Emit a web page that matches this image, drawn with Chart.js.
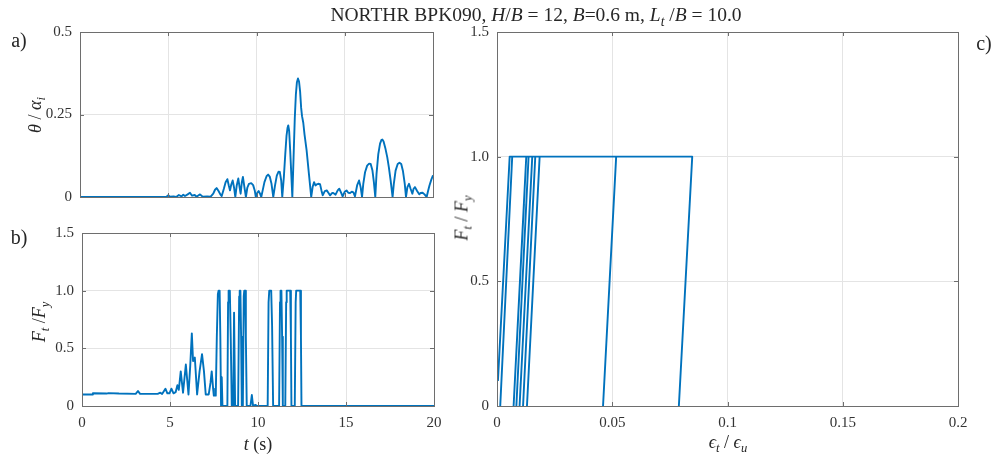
<!DOCTYPE html>
<html>
<head>
<meta charset="utf-8">
<script src="https://cdn.jsdelivr.net/npm/chart.js@4.4.0/dist/chart.umd.min.js"></script>
<style>
  html, body { margin:0; padding:0; background:#fff; }
  #wrap { position:relative; width:994px; height:459px; overflow:hidden; font-family:"Liberation Serif","DejaVu Serif",serif; color:#222; }
  canvas { position:absolute; left:0; top:0; }
  .txt { position:absolute; white-space:nowrap; font-family:"Liberation Serif",serif; color:#262626; }
  .rot { transform:translate(-50%,-50%) rotate(-90deg); }
  .ctr { transform:translate(-50%,-50%); }
  sub { font-size:70%; vertical-align:-0.35em; line-height:0; }
</style>
</head>
<body>
<div id="wrap">
  <canvas id="ca" width="994" height="459"></canvas>
  <canvas id="cb" width="994" height="459"></canvas>
  <canvas id="cc" width="994" height="459"></canvas>
  <div class="txt ctr" style="left:536px;top:15px;font-size:19.5px;">NORTHR BPK090, <i>H</i>/<i>B</i> = 12, <i>B</i>=0.6 m, <i>L</i><sub><i>t</i></sub> /<i>B</i> = 10.0</div>
  <div class="txt ctr" style="left:19px;top:40px;font-size:20px;">a)</div>
  <div class="txt ctr" style="left:19px;top:237px;font-size:20px;">b)</div>
  <div class="txt ctr" style="left:984px;top:43px;font-size:20px;">c)</div>
  <div class="txt rot" style="left:35px;top:115px;font-size:18px;"><i>θ</i> / <i>α</i><sub><i>i</i></sub></div>
  <div class="txt rot" style="left:39px;top:322px;font-size:18px;"><i>F</i><sub><i>t</i></sub> /<i>F</i><sub><i>y</i></sub></div>
  <div class="txt rot" style="left:462px;top:218px;font-size:18px;"><i>F</i><sub><i>t</i></sub> / <i>F</i><sub><i>y</i></sub></div>
  <div class="txt ctr" style="left:258px;top:444px;font-size:18px;"><i>t</i> (s)</div>
  <div class="txt ctr" style="left:728px;top:442px;font-size:18px;"><i>ϵ</i><sub><i>t</i></sub> / <i>ϵ</i><sub><i>u</i></sub></div>
</div>
<script>
// ---- Panel a: rotation ratio vs time ----
const tA = [0,4.8,4.9,5.0,5.1,5.3,5.45,5.6,5.75,5.85,5.95,6.1,6.23,6.35,6.5,6.6,6.8,6.95,7.2,7.4,7.55,7.65,7.74,7.85,7.95,8.03,8.15,8.25,8.35,8.43,8.5,8.57,8.65,8.73,8.8,8.88,8.97,9.04,9.1,9.17,9.23,9.3,9.4,9.48,9.57,9.7,9.81,9.9,9.96,10.04,10.12,10.2,10.27,10.35,10.45,10.57,10.66,10.75,10.85,10.95,11.05,11.15,11.25,11.32,11.4,11.46,11.55,11.63,11.7,11.76,11.8,11.85,11.91,11.97,12.03,12.1,12.17,12.23,12.29,12.35,12.41,12.47,12.53,12.58,12.65,12.72,12.84,12.97,13.1,13.18,13.26,13.34,13.41,13.5,13.6,13.68,13.75,13.87,13.98,14.08,14.17,14.28,14.35,14.48,14.6,14.69,14.78,14.88,15.0,15.1,15.2,15.3,15.4,15.49,15.58,15.7,15.81,15.9,15.98,16.05,16.15,16.27,16.38,16.47,16.57,16.65,16.73,16.8,16.9,17.0,17.08,17.13,17.2,17.3,17.41,17.5,17.6,17.71,17.78,17.88,18.0,18.1,18.2,18.3,18.4,18.47,18.55,18.64,18.73,18.83,18.9,18.98,19.1,19.22,19.3,19.41,19.52,19.64,19.72,19.8,19.9,20.0];
const thetaA = [0,0,0.001,0.005,0.001,0.002,0,0.006,0.002,0.007,0.003,0.008,0.013,0.004,0.006,0.001,0.008,0.001,0.002,0.001,0.01,0.022,0.027,0.018,0.008,0.003,0.025,0.045,0.054,0.035,0.02,0.038,0.05,0.028,0,0.035,0.056,0.03,0.01,0.045,0.061,0.035,0,0.028,0.04,0.042,0.036,0.02,0,0.012,0.018,0.01,0,0.02,0.045,0.063,0.068,0.062,0.04,0,0.035,0.065,0.077,0.076,0.05,0,0.06,0.13,0.185,0.21,0.217,0.2,0.14,0.07,0,0.12,0.24,0.31,0.348,0.359,0.35,0.32,0.27,0.245,0.225,0.19,0.141,0.07,0,0.03,0.045,0.035,0.038,0.04,0.039,0.02,0.005,0.018,0.02,0.012,0.005,0.012,0.012,0.007,0.02,0.025,0.015,0.002,0.016,0.02,0.013,0.012,0.016,0.014,0.002,0.035,0.05,0.03,0,0.04,0.075,0.095,0.101,0.1,0.08,0.045,0,0.07,0.13,0.162,0.173,0.174,0.168,0.148,0.12,0.09,0.05,0,0.04,0.08,0.1,0.104,0.1,0.078,0.04,0,0.03,0.04,0.025,0.01,0.025,0.03,0.018,0.008,0.012,0.013,0.008,0,0.018,0.035,0.052,0.066];

// ---- Panel b: tendon force ratio vs time ----
const tB = [0,0.6,0.62,1.4,1.5,2.1,3.05,3.18,3.3,4.3,4.45,4.55,4.74,4.85,4.97,5.08,5.2,5.32,5.42,5.5,5.61,5.74,5.9,6.05,6.15,6.24,6.31,6.41,6.54,6.68,6.82,6.93,7.03,7.2,7.3,7.37,7.45,7.49,7.6,7.66,7.72,7.76,7.82,7.86,7.9,7.94,7.98,8.26,8.3,8.33,8.4,8.45,8.51,8.59,8.64,8.7,8.87,8.93,8.96,9.0,9.04,9.08,9.14,9.19,9.22,9.27,9.31,9.36,9.57,9.65,9.72,9.85,9.95,10.55,10.6,10.64,10.75,10.8,10.86,11.2,11.25,11.28,11.33,11.37,11.41,11.55,11.6,11.63,11.83,11.87,11.9,12.09,12.14,12.17,12.4,12.44,12.47,20];
const forceB = [0.1,0.1,0.11,0.108,0.112,0.108,0.105,0.13,0.105,0.105,0.115,0.105,0.15,0.11,0.11,0.15,0.11,0.12,0.18,0.14,0.30,0.115,0.36,0.10,0.35,0.63,0.39,0.42,0.1,0.3,0.45,0.3,0.1,0.1,0.2,0.3,0.15,0.09,0.09,0.6,0.97,1.0,1.0,0.6,0,0.25,0,0,0.9,1.0,1.0,0.6,0,0,0.81,0,0,0.95,1.0,1.0,0.6,0,0,0.95,1.0,1.0,0.6,0,0,0.095,0,0.01,0,0,0.9,1.0,1.0,0.7,0,0,0.9,1.0,1.0,0.6,0,0,0.9,1.0,1.0,0.6,0,0,0.9,1.0,1.0,0.6,0,0];

// ---- Panel c: force ratio vs strain ratio ----
const epsC = [0.0004,0.0055,0.0066,0.0014,0.0027,0.0014,0.0066,0.0127,0.0072,0.0117,0.0072,0.0127,0.0137,0.0084,0.0137,0.0153,0.0098,0.0103,0.0098,0.0153,0.0166,0.0113,0.0166,0.0185,0.013,0.0185,0.0517,0.046,0.0517,0.0847,0.0789];
const forceC = [0.1,1.0,1.0,0,0.25,0,1.0,1.0,0,0.81,0,1.0,1.0,0,1.0,1.0,0,0.095,0,1.0,1.0,0,1.0,1.0,0,1.0,1.0,0,1.0,1.0,0];

// ---- tick labels ----
const ticksAy = ['0','0.25','0.5'];
const ticksBy = ['0','0.5','1.0','1.5'];
const ticksBx = ['0','5','10','15','20'];
const ticksCy = ['0','0.5','1.0','1.5'];
const ticksCx = ['0','0.05','0.1','0.15','0.2'];

const BLUE = '#0072BD';
const GRID = '#e4e4e4';
const BOX = '#6e6e6e';
const TICKCOL = '#333333';
const FONT = { family: '"Liberation Serif", serif', size: 15 };

const boxPlugin = {
  id: 'box',
  afterDraw(chart) {
    const { ctx, chartArea: a } = chart;
    ctx.save();
    ctx.strokeStyle = BOX;
    ctx.lineWidth = 1;
    ctx.strokeRect(Math.round(a.left) + 0.5, Math.round(a.top) + 0.5, Math.round(a.right - a.left), Math.round(a.bottom - a.top));
    const L = 4;
    const xs = chart.scales.x, ys = chart.scales.y;
    ctx.beginPath();
    xs.ticks.forEach(t => {
      const p = Math.round(xs.getPixelForValue(t.value)) + 0.5;
      ctx.moveTo(p, a.bottom); ctx.lineTo(p, a.bottom - L);
      ctx.moveTo(p, a.top); ctx.lineTo(p, a.top + L);
    });
    ys.ticks.forEach(t => {
      const p = Math.round(ys.getPixelForValue(t.value)) + 0.5;
      ctx.moveTo(a.left, p); ctx.lineTo(a.left + L, p);
      ctx.moveTo(a.right, p); ctx.lineTo(a.right - L, p);
    });
    ctx.stroke();
    ctx.restore();
  }
};

function makeChart(id, xs, ys, area, xr, yr, xLabels, yLabels) {
  const data = xs.map((x, i) => ({ x: x, y: ys[i] }));
  const H = 30;
  return new Chart(document.getElementById(id), {
    type: 'scatter',
    data: { datasets: [{ data: data, showLine: true, borderColor: BLUE, borderWidth: 1.9, pointRadius: 0, tension: 0, fill: false, borderJoinStyle: 'round' }] },
    options: {
      responsive: false, animation: false, devicePixelRatio: 1,
      layout: { padding: { left: 0, top: area.top, right: 994 - area.right, bottom: xLabels ? 459 - area.bottom - H : 459 - area.bottom } },
      plugins: { legend: { display: false }, tooltip: { enabled: false }, title: { display: false } },
      scales: {
        x: {
          type: 'linear', min: xr[0], max: xr[1],
          afterFit: s => { s.height = xLabels ? H : 0; },
          grid: { color: GRID, drawTicks: false, lineWidth: 1 },
          border: { display: false },
          ticks: {
            display: !!xLabels, stepSize: xr[2], autoSkip: false, maxRotation: 0, padding: 8,
            color: TICKCOL, font: FONT,
            callback: (v, i) => xLabels ? xLabels[i] : ''
          }
        },
        y: {
          type: 'linear', min: yr[0], max: yr[1],
          afterFit: s => { s.width = area.left; },
          grid: { color: GRID, drawTicks: false, lineWidth: 1 },
          border: { display: false },
          ticks: {
            stepSize: yr[2], autoSkip: false, padding: 8,
            color: TICKCOL, font: FONT,
            callback: (v, i) => yLabels[i]
          }
        }
      }
    },
    plugins: [boxPlugin]
  });
}

makeChart('ca', tA, thetaA, { left: 80, right: 433, top: 32, bottom: 197 }, [0, 20, 5], [0, 0.5, 0.25], null, ticksAy);
makeChart('cb', tB, forceB, { left: 82, right: 434, top: 233, bottom: 406 }, [0, 20, 5], [0, 1.5, 0.5], ticksBx, ticksBy);
makeChart('cc', epsC, forceC, { left: 497, right: 958, top: 32, bottom: 406 }, [0, 0.2, 0.05], [0, 1.5, 0.5], ticksCx, ticksCy);
</script>
</body>
</html>
